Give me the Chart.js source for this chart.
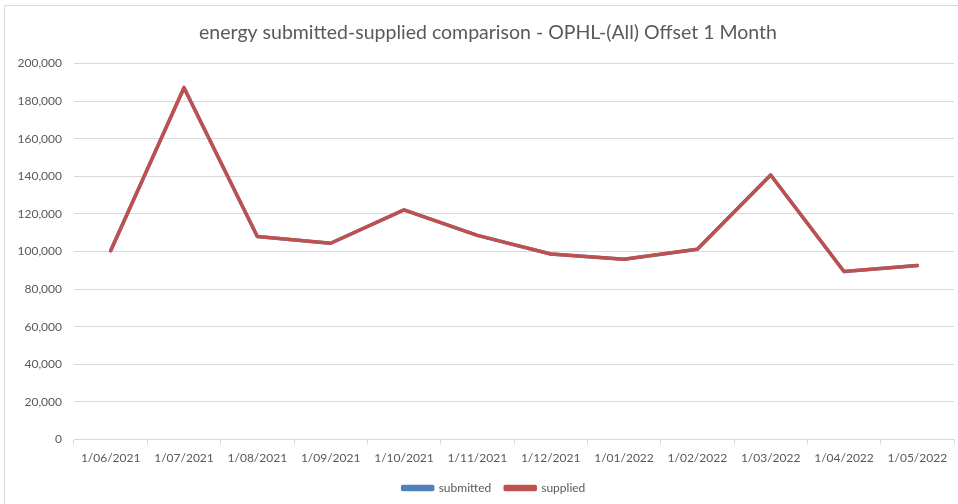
<!DOCTYPE html>
<html>
<head>
<meta charset="utf-8">
<script src="https://cdn.jsdelivr.net/npm/chart.js@4"></script>
<style>
html,body{margin:0;padding:0;background:#fff;}
#wrap{width:958px;height:504px;position:relative;}
</style>
</head>
<body>
<div id="wrap"><canvas id="c" width="958" height="504"></canvas></div>
<script>
const categories = ["1/06/2021","1/07/2021","1/08/2021","1/09/2021","1/10/2021","1/11/2021","1/12/2021","1/01/2022","1/02/2022","1/03/2022","1/04/2022","1/05/2022"];
const submitted = [100400, 187100, 108000, 104400, 122100, 108600, 98700, 95900, 101200, 140700, 89400, 92500];
const supplied  = [100400, 187100, 108000, 104400, 122100, 108600, 98700, 95900, 101200, 140700, 89400, 92500];
const yTicks = [0, 20000, 40000, 60000, 80000, 100000, 120000, 140000, 160000, 180000, 200000];
const titleText = "energy submitted-supplied comparison - OPHL-(All) Offset 1 Month";

const FONT = "Lato, 'Open Sans', sans-serif";
const GREY = "#595959";
const GRID = "#d9d9d9";

const borderPlugin = {
  id: 'outerBorder',
  beforeDraw(chart) {
    const ctx = chart.ctx;
    ctx.save();
    ctx.strokeStyle = "#d9d9d9";
    ctx.lineWidth = 1;
    ctx.beginPath();
    ctx.moveTo(4.5, 504);
    ctx.lineTo(4.5, 5.5);
    ctx.lineTo(958, 5.5);
    ctx.stroke();
    ctx.restore();
  }
};

// shift title and legend centres to match the reference layout
const shiftPlugin = {
  id: 'shiftBlocks',
  afterLayout(chart) {
    if (chart.titleBlock) chart.titleBlock.left += 22;
    if (chart.legend) chart.legend.left += 34;
  }
};

new Chart(document.getElementById('c'), {
  type: 'line',
  data: {
    labels: categories,
    datasets: [
      { label: 'submitted', data: submitted, borderColor: '#4F81BD', backgroundColor: '#4F81BD',
        borderWidth: 3.5, pointRadius: 0, tension: 0, order: 1, borderCapStyle: 'round', borderJoinStyle: 'round' },
      { label: 'supplied', data: supplied, borderColor: '#C0504D', backgroundColor: '#C0504D',
        borderWidth: 3.5, pointRadius: 0, tension: 0, order: 0, borderCapStyle: 'round', borderJoinStyle: 'round' }
    ]
  },
  options: {
    responsive: false,
    animation: false,
    layout: { padding: { left: 0, right: 4, top: 0, bottom: 0 } },
    plugins: {
      title: {
        display: true, text: titleText, color: GREY,
        font: { family: FONT, size: 19.5, weight: 'normal' },
        padding: { top: 21, bottom: 19 }
      },
      legend: {
        position: 'bottom',
        labels: {
          color: GREY, font: { family: FONT, size: 12 },
          boxWidth: 30, boxHeight: 3, padding: 14,
          sort: (a, b) => a.datasetIndex - b.datasetIndex
        }
      },
      tooltip: { enabled: false }
    },
    scales: {
      x: {
        offset: true,
        afterFit(scale) { scale.height -= 3; },
        grid: { display: true, offset: true, drawOnChartArea: false, drawTicks: true, tickLength: 5, color: GRID },
        border: { display: true, color: GRID },
        ticks: { color: GREY, font: { family: FONT, size: 12 }, padding: 6, maxRotation: 0, autoSkip: false }
      },
      y: {
        min: 0, max: 200000,
        afterFit(scale) { scale.width = 74; },
        afterBuildTicks(scale) { scale.ticks = yTicks.map(v => ({ value: v })); },
        grid: { color: GRID, drawTicks: false },
        border: { display: false },
        ticks: { color: GREY, font: { family: FONT, size: 12 }, padding: 12,
          callback: v => v.toLocaleString('en-US') }
      }
    }
  },
  plugins: [borderPlugin, shiftPlugin]
});
</script>
</body>
</html>
